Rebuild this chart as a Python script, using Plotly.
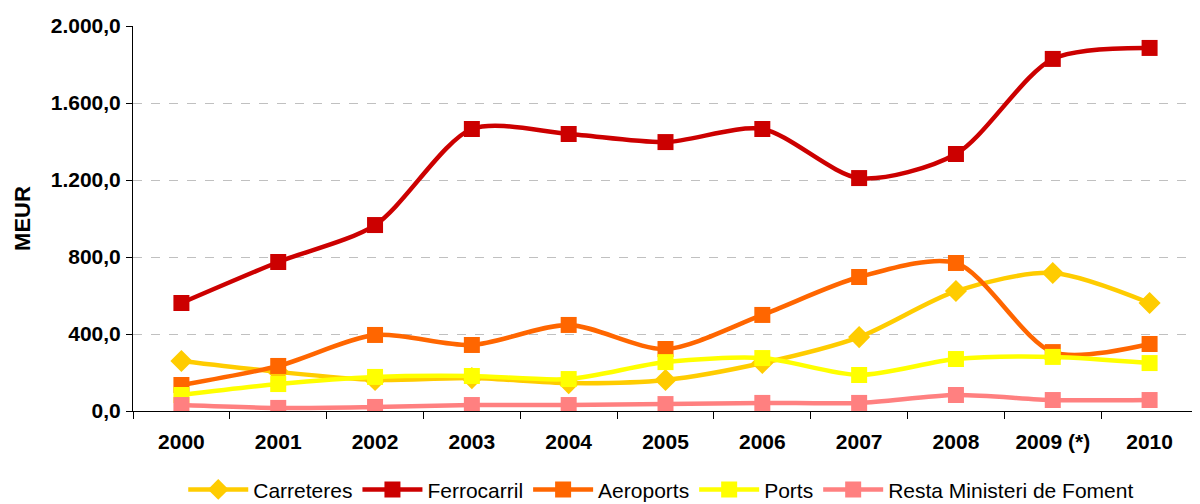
import plotly.graph_objects as go

years = ["2000", "2001", "2002", "2003", "2004", "2005", "2006", "2007", "2008", "2009 (*)", "2010"]
carreteres = [260, 203, 161, 171, 145, 161, 249, 384, 623, 717, 561]
ferrocarril = [561, 774, 966, 1465, 1439, 1397, 1465, 1210, 1335, 1829, 1886]
aeroports = [135, 234, 395, 343, 447, 322, 499, 696, 769, 306, 348]
ports = [83, 140, 177, 182, 166, 254, 275, 187, 270, 281, 249]
resta = [31, 16, 21, 31, 31, 36, 42, 42, 83, 57, 57]

series = [
    ("Carreteres", carreteres, "#FFCC00", "diamond", 17),
    ("Ferrocarril", ferrocarril, "#CC0000", "square", 16),
    ("Aeroports", aeroports, "#FF6600", "square", 16),
    ("Ports", ports, "#FFFF00", "square", 16),
    ("Resta Ministeri de Foment", resta, "#FF8080", "square", 16),
]

FONT = "Liberation Sans, Arial, sans-serif"

fig = go.Figure()
for name, vals, color, sym, size in series:
    fig.add_trace(go.Scatter(
        x=years, y=vals, name=name, mode="lines+markers",
        line=dict(color=color, width=4.5, shape="spline", smoothing=0.8),
        marker=dict(color=color, symbol=sym, size=size),
    ))

fig.update_layout(
    width=1200, height=504,
    margin=dict(l=125, r=10, t=18, b=101),
    paper_bgcolor="white", plot_bgcolor="white",
    separators=",.",
    font=dict(family=FONT, color="black"),
    showlegend=True,
    legend=dict(orientation="h", x=0.496, xanchor="center",
                yref="container", y=0.044, yanchor="middle",
                font=dict(size=21, family=FONT),
                itemwidth=60, tracegroupgap=0),
    xaxis=dict(type="category", showline=True, linecolor="black", linewidth=1,
               ticks="outside", tickson="boundaries", ticklen=7, tickcolor="black",
               ticklabelstandoff=12, automargin=False,
               tickfont=dict(size=21, family=FONT, weight="bold"),
               showgrid=False, range=[-0.5, 10.5]),
    yaxis=dict(range=[0, 2000], dtick=400, tickformat=",.1f", showline=True,
               linecolor="black", linewidth=1, ticks="outside", ticklen=6, tickcolor="black",
               ticklabelstandoff=1, automargin=False,
               tickfont=dict(size=21, family=FONT, weight="bold"),
               showgrid=True, gridcolor="#C0C0C0", griddash="dash", gridwidth=1,
               zeroline=False,
               title=dict(text="MEUR", font=dict(size=22, family=FONT, weight="bold"), standoff=14)),
)

fig.write_html("out.html")
